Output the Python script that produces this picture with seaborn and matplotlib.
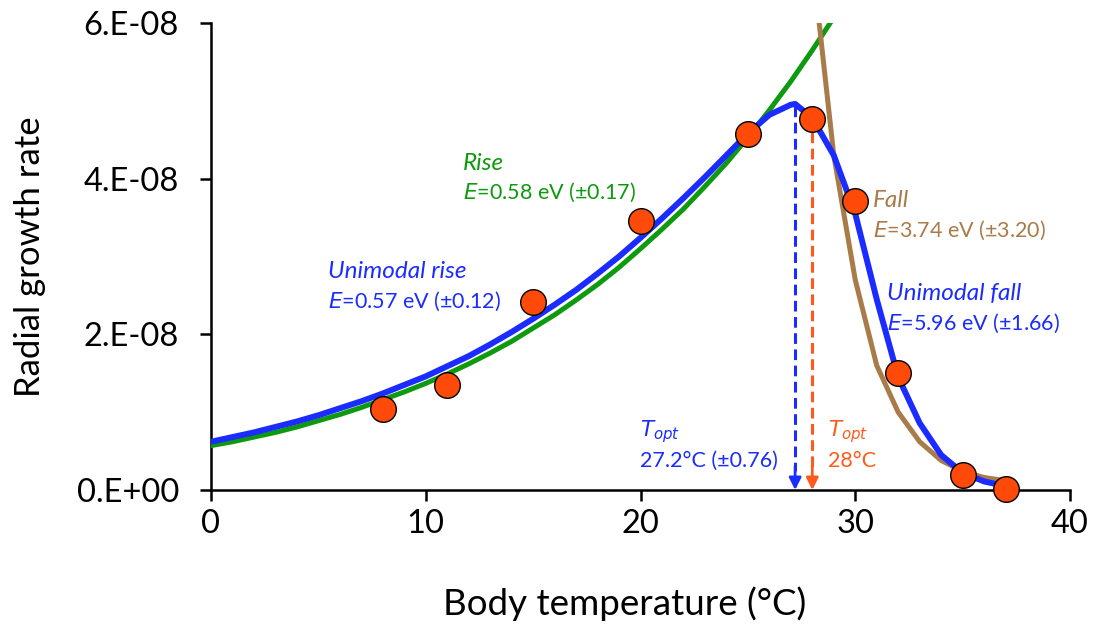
import numpy as np
import pandas as pd
import matplotlib
matplotlib.use("Agg")
import matplotlib.pyplot as plt
import seaborn as sns

# ---- data (rates in units of 1e-8) ----
obs_temp = [8, 11, 15, 20, 25, 28, 30, 32, 35, 37]
obs_rate = [1.04, 1.35, 2.42, 3.46, 4.58, 4.77, 3.71, 1.50, 0.19, 0.01]

rise_temp = [0, 1, 2, 3, 4, 5, 6, 7, 8, 9, 10, 11, 12, 13, 14, 15, 16, 17, 18, 19, 20,
             21, 22, 23, 24, 25, 26, 27, 28, 29, 30]
rise_rate = [0.57, 0.62, 0.68, 0.74, 0.81, 0.89, 0.97, 1.06, 1.16, 1.26, 1.37, 1.49, 1.62, 1.76,
             1.91, 2.08, 2.25, 2.44, 2.64, 2.86, 3.10, 3.35, 3.61, 3.90, 4.20, 4.53, 4.88, 5.25,
             5.65, 6.07, 6.52]

uni_temp = [0, 1, 2, 3, 4, 5, 6, 7, 8, 9, 10, 11, 12, 13, 14, 15, 16, 17, 18, 19, 20,
            21, 22, 23, 24, 25, 26, 27, 27.2, 28, 29, 30, 31, 32, 33, 34, 35, 36, 37]
uni_rate = [0.62, 0.68, 0.74, 0.81, 0.88, 0.96, 1.05, 1.14, 1.24, 1.35, 1.46, 1.59, 1.72, 1.87,
            2.03, 2.20, 2.38, 2.57, 2.78, 3.00, 3.24, 3.49, 3.75, 4.02, 4.30, 4.58, 4.82, 4.95,
            4.96, 4.78, 4.30, 3.55, 2.45, 1.45, 0.86, 0.45, 0.22, 0.11, 0.05]

fall_temp = [28, 29, 30, 31, 32, 33, 34, 35, 36, 37]
fall_rate = [6.8, 4.30, 2.70, 1.60, 1.00, 0.62, 0.38, 0.24, 0.16, 0.12]

topt_temp = [27.2, 28.0]
topt_rate = [4.93, 4.60]

yticks = [0, 2e-8, 4e-8, 6e-8]
ytick_labels = ["0.E+00", "2.E-08", "4.E-08", "6.E-08"]
xticks = [0, 10, 20, 30, 40]

SCALE = 1e-8
C_GREEN = "#0e9a0e"
C_BLUE = "#1a2cff"
C_BROWN = "#a87b48"
C_ORANGE = "#ff4a0a"
C_ORDASH = "#ff5a1a"

sns.set_theme(style="ticks")
plt.rcParams["font.family"] = ["Lato", "DejaVu Sans"]

fig = plt.figure(figsize=(10.93, 6.24), dpi=100)
ax = fig.add_axes([211 / 1093, 1 - 490 / 624, (1070 - 211) / 1093, (490 - 23) / 624])

df_rise = pd.DataFrame({"T": rise_temp, "r": np.array(rise_rate) * SCALE})
df_uni = pd.DataFrame({"T": uni_temp, "r": np.array(uni_rate) * SCALE})
df_fall = pd.DataFrame({"T": fall_temp, "r": np.array(fall_rate) * SCALE})
df_obs = pd.DataFrame({"T": obs_temp, "r": np.array(obs_rate) * SCALE})

sns.lineplot(data=df_rise, x="T", y="r", ax=ax, color=C_GREEN, lw=3.6, sort=False, zorder=3)
sns.lineplot(data=df_fall, x="T", y="r", ax=ax, color=C_BROWN, lw=3.6, sort=False, zorder=3)
sns.lineplot(data=df_uni, x="T", y="r", ax=ax, color=C_BLUE, lw=4.3, sort=False, zorder=4)

# Topt dashed arrows
for t, r, c in zip(topt_temp, topt_rate, [C_BLUE, C_ORDASH]):
    ax.plot([t, t], [r * SCALE, 0.25 * SCALE], color=c, lw=2.2, ls=(0, (3.5, 1.8)), zorder=2)
    ax.annotate("", xy=(t, 0.0), xytext=(t, 0.3 * SCALE),
                arrowprops=dict(arrowstyle="-|>,head_length=0.6,head_width=0.3", color=c, lw=2.0,
                                shrinkA=0, shrinkB=0), zorder=2)

sns.scatterplot(data=df_obs, x="T", y="r", ax=ax, s=340, color=C_ORANGE, edgecolor="black",
                linewidth=1.0, zorder=6, clip_on=False)

ax.set_xlim(0, 40)
ax.set_ylim(0, 6e-8)
ax.set_xticks(xticks)
ax.set_xticklabels([str(v) for v in xticks])
ax.set_yticks(yticks)
ax.set_yticklabels(ytick_labels)
ax.tick_params(axis="both", direction="out", length=8, width=1.8, color="black",
               labelsize=23.5, labelcolor="black")
ax.tick_params(axis="x", pad=6)
ax.tick_params(axis="y", pad=15)
for side in ["top", "right"]:
    ax.spines[side].set_visible(False)
for side in ["left", "bottom"]:
    ax.spines[side].set_color("black")
    ax.spines[side].set_linewidth(1.8)

ax.set_xlabel("Body temperature (°C)", fontsize=26.5, color="black")
ax.set_ylabel("Radial growth rate", fontsize=25, color="black")
ax.xaxis.set_label_coords(0.482, -(604 - 490) / 467, transform=ax.transAxes)
ax.xaxis.label.set_va("center")
ax.yaxis.set_label_coords(-(211 - 30) / 859, 0.5, transform=ax.transAxes)
ax.yaxis.label.set_va("center")

fs = 15.5
fs_title = 17.5
def label(x, y, title, body, color):
    ax.text(x, y * SCALE, title, color=color, fontsize=fs_title, style="italic", va="center", ha="left")
    ax.text(x, (y - 0.38) * SCALE, body, color=color, fontsize=fs, va="center", ha="left")

label(11.73, 4.20, "Rise", r"$\it{E}$=0.58 eV (±0.17)", C_GREEN)
label(5.45, 2.81, "Unimodal rise", r"$\it{E}$=0.57 eV (±0.12)", C_BLUE)
label(30.83, 3.72, "Fall", r"$\it{E}$=3.74 eV (±3.20)", C_BROWN)
label(31.5, 2.52, "Unimodal fall", r"$\it{E}$=5.96 eV (±1.66)", C_BLUE)

ax.text(20.0, 0.745 * SCALE, r"$\it{T}_{\it{opt}}$", color=C_BLUE, fontsize=fs, va="center", ha="left")
ax.text(20.0, 0.37 * SCALE, "27.2°C (±0.76)", color=C_BLUE, fontsize=fs, va="center", ha="left")
ax.text(28.73, 0.745 * SCALE, r"$\it{T}_{\it{opt}}$", color=C_ORDASH, fontsize=fs, va="center", ha="left")
ax.text(28.73, 0.37 * SCALE, "28°C", color=C_ORDASH, fontsize=fs, va="center", ha="left")

fig.savefig("out.png", dpi=100, facecolor="white")
